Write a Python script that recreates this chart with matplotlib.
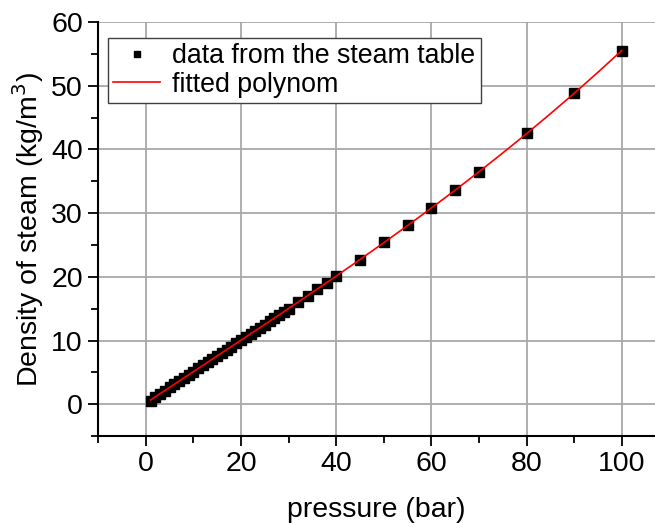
import numpy as np
import matplotlib.pyplot as plt

plt.rcParams['font.family'] = ['Liberation Sans', 'DejaVu Sans']

# saturated steam: pressure (bar) vs density (kg/m3)
pressure = [1, 2, 3, 4, 5, 6, 7, 8, 9, 10, 11, 12, 13, 14, 15, 16, 17, 18, 19, 20,
            21, 22, 23, 24, 25, 26, 27, 28, 29, 30, 32, 34, 36, 38, 40,
            45, 50, 55, 60, 65, 70, 80, 90, 100]
density = [0.59, 1.13, 1.65, 2.16, 2.67, 3.17, 3.67, 4.16, 4.66, 5.15, 5.64, 6.13,
           6.62, 7.11, 7.60, 8.09, 8.58, 9.07, 9.56, 10.05, 10.54, 11.03, 11.53,
           12.02, 12.52, 13.02, 13.52, 14.02, 14.52, 15.01, 16.0, 17.0, 18.05,
           19.1, 20.1, 22.7, 25.4, 28.1, 30.8, 33.6, 36.5, 42.5, 48.8, 55.5]

p = np.array(pressure)
rho = np.array(density)
coef = np.polyfit(p, rho, 3)
pp = np.linspace(p.min(), p.max(), 200)

fs = 20.5
fig = plt.figure(figsize=(6.55, 5.23), dpi=100)
ax = fig.add_axes([0.150, 0.166, 0.85, 0.792])

ax.plot(p, rho, 's', color='black', ms=7, label='data from the steam table', zorder=3)
ax.plot(pp, np.polyval(coef, pp), '-', color='red', lw=1.2, label='fitted polynom', zorder=4)

ax.set_xlim(-10, 107)
ax.set_ylim(-5, 60)
ax.set_xticks(np.arange(0, 101, 20))
ax.set_xticks(np.arange(-10, 107, 10), minor=True)
ax.set_yticks(np.arange(0, 61, 10))
ax.set_yticks(np.arange(-5, 61, 5), minor=True)
ax.grid(True, which='major', color='#a8a8a8', lw=1.3)
ax.set_axisbelow(True)

for s in ['top', 'right']:
    ax.spines[s].set_visible(False)
for s in ['left', 'bottom']:
    ax.spines[s].set_linewidth(1.5)
ax.tick_params(which='major', direction='out', length=7, width=1.3, labelsize=fs, pad=4)
ax.tick_params(which='minor', direction='out', length=5, width=1.3)

ax.set_xlabel('pressure (bar)', fontsize=fs, labelpad=14)
ax.set_ylabel('Density of steam (kg/m$^3$)', fontsize=fs, labelpad=4)

leg = ax.legend(loc='upper left', bbox_to_anchor=(0.008, 0.975), fontsize=19.3, frameon=True,
                fancybox=False, edgecolor='#404040', framealpha=1, markerscale=0.7,
                handlelength=1.75, borderpad=0.2, labelspacing=0.1, handletextpad=0.45,
                borderaxespad=0.2)
leg.get_frame().set_linewidth(1.0)

fig.savefig('out.png', dpi=100)
